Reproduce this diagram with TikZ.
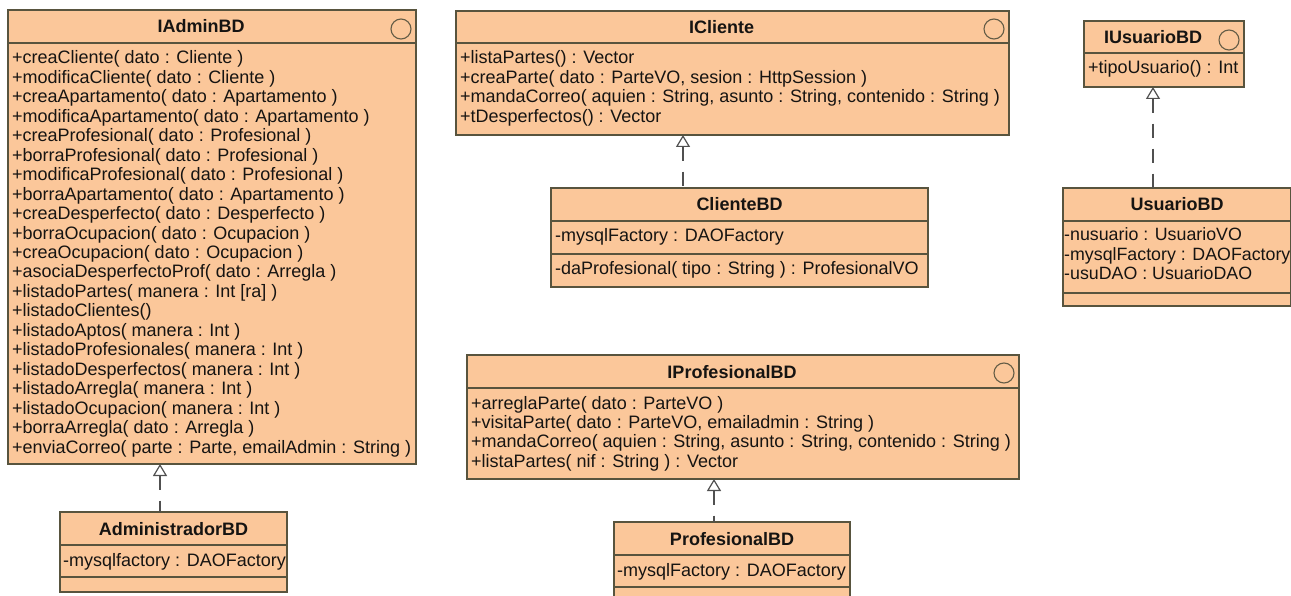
\documentclass[tikz,border=0pt]{standalone}
\usepackage{fontspec}
\setmainfont{Liberation Sans}
\usetikzlibrary{arrows.meta}
\definecolor{boxfill}{RGB}{251,199,154}
\definecolor{boxline}{RGB}{88,84,62}
\definecolor{ink}{RGB}{22,20,18}
\definecolor{ringline}{RGB}{100,92,70}
\definecolor{arrowline}{RGB}{80,80,80}

% frame of a class box: name, left, top, right, bottom (pixel grid, y downwards)
\newcommand\umlframe[5]{%
  \node[frame, minimum width={(#4)-(#2)}, minimum height={(#5)-(#3)}] (#1) at (#2,#3) {};}
% compartment rule across a box: left, right, y
\newcommand\umlrule[3]{\draw[rule] (#1,#3) -- (#2,#3);}

\begin{document}
\begin{tikzpicture}[x=1pt,y=-1pt,
  frame/.style={draw=boxline, line width=1.2pt, fill=boxfill, inner sep=0pt,
                outer sep=0pt, anchor=north west},
  rule/.style={draw=boxline, line width=1.2pt},
  title/.style={font=\fontsize{18}{19.4}\selectfont\bfseries, text=ink,
                inner sep=0pt, anchor=base},
  member/.style={font=\fontsize{18}{19.4}\selectfont, text=ink,
                 inner sep=0pt, anchor=base west},
  narrowmember/.style={member, font=\fontsize{17.8}{19.4}\selectfont},
  ring/.style={circle, draw=ringline, line width=1.1pt, minimum size=20pt,
               inner sep=0pt},
  realize/.style={draw=arrowline, line width=1.2pt, dash pattern=on 14pt off 11pt,
                  {Triangle[open, width=14pt, length=12pt, fill=white]}-}
]
\fill[white] (0,0) rectangle (1291,596);
\useasboundingbox (0,0) rectangle (1291,596);

% ---------- IAdminBD ----------
\umlframe{iadm}{8}{10}{416}{464}
\umlrule{8}{416}{43}
\node[title] (iadm-name) at (201,33) {IAdminBD};
\node[ring] (iadm-ring) at (401,29) {};
\foreach \t [count=\i from 0] in {
  {+creaCliente( dato : Cliente )},
  {+modificaCliente( dato : Cliente )},
  {+creaApartamento( dato : Apartamento )},
  {+modificaApartamento( dato : Apartamento )},
  {+creaProfesional( dato : Profesional )},
  {+borraProfesional( dato : Profesional )},
  {+modificaProfesional( dato : Profesional )},
  {+borraApartamento( dato : Apartamento )},
  {+creaDesperfecto( dato : Desperfecto )},
  {+borraOcupacion( dato : Ocupacion )},
  {+creaOcupacion( dato : Ocupacion )},
  {+asociaDesperfectoProf( dato : Arregla )},
  {+listadoPartes( manera : Int [ra] )},
  {+listadoClientes()},
  {+listadoAptos( manera : Int )},
  {+listadoProfesionales( manera : Int )},
  {+listadoDesperfectos( manera : Int )},
  {+listadoArregla( manera : Int )},
  {+listadoOcupacion( manera : Int )},
  {+borraArregla( dato : Arregla )},
  {+enviaCorreo( parte : Parte, emailAdmin : String )}}
  \node[member] (iadm-op\i) at (12,{64+\i*19.45}) {\t};

% ---------- AdministradorBD ----------
\umlframe{admbd}{60}{512}{287}{592}
\umlrule{60}{287}{545}
\umlrule{60}{287}{577}
\node[title] (admbd-name) at (173.5,535) {AdministradorBD};
\node[member] (admbd-at0) at (63,566) {-mysqlfactory : DAOFactory};

% ---------- ICliente ----------
\umlframe{icli}{456}{11}{1009}{135}
\umlrule{456}{1009}{43}
\node[title] (icli-name) at (721.5,34) {ICliente};
\node[ring] (icli-ring) at (994,29) {};
\foreach \t [count=\i from 0] in {
  {+listaPartes() : Vector},
  {+creaParte( dato : ParteVO, sesion : HttpSession )},
  {+mandaCorreo( aquien : String, asunto : String, contenido : String )},
  {+tDesperfectos() : Vector}}
  \node[member] (icli-op\i) at (460,{64+\i*19.4}) {\t};

% ---------- ClienteBD ----------
\umlframe{clibd}{551}{188}{928}{287}
\umlrule{551}{928}{221}
\umlrule{551}{928}{254}
\node[title] (clibd-name) at (739.5,211) {ClienteBD};
\node[member] (clibd-at0) at (555,242) {-mysqlFactory : DAOFactory};
\node[member] (clibd-op0) at (555,275) {-daProfesional( tipo : String ) : ProfesionalVO};

% ---------- IUsuarioBD ----------
\umlframe{iusu}{1084}{21}{1244}{87}
\umlrule{1084}{1244}{53}
\node[title] (iusu-name) at (1153,44) {IUsuarioBD};
\node[ring] (iusu-ring) at (1229,40) {};
\node[member] (iusu-op0) at (1088,74) {+tipoUsuario() : Int};

% ---------- UsuarioBD ----------
\umlframe{usubd}{1063}{188}{1291}{306}
\umlrule{1063}{1291}{221}
\umlrule{1063}{1291}{293}
\node[title] (usubd-name) at (1177,211) {UsuarioBD};
\foreach \t [count=\i from 0] in {
  {-nusuario : UsuarioVO},
  {-mysqlFactory : DAOFactory},
  {-usuDAO : UsuarioDAO}}
  \node[narrowmember] (usubd-at\i) at (1064,{241+\i*19.4}) {\t};

% ---------- IProfesionalBD ----------
\umlframe{ipro}{467}{355}{1019}{479}
\umlrule{467}{1019}{388}
\node[title] (ipro-name) at (732,378) {IProfesionalBD};
\node[ring] (ipro-ring) at (1004,373) {};
\foreach \t [count=\i from 0] in {
  {+arreglaParte( dato : ParteVO )},
  {+visitaParte( dato : ParteVO, emailadmin : String )},
  {+mandaCorreo( aquien : String, asunto : String, contenido : String )},
  {+listaPartes( nif : String ) : Vector}}
  \node[member] (ipro-op\i) at (471,{409+\i*19.4}) {\t};

% ---------- ProfesionalBD ----------
\umlframe{probd}{614}{522}{850}{602}
\umlrule{614}{850}{555}
\umlrule{614}{850}{587}
\node[title] (probd-name) at (732,545) {ProfesionalBD};
\node[member] (probd-at0) at (617,576) {-mysqlFactory : DAOFactory};

% ---------- realizations ----------
\coordinate (adm-foot) at ([xshift=100pt]admbd.north west);
\coordinate (cli-foot) at ([xshift=132pt]clibd.north west);
\coordinate (pro-foot) at ([xshift=100pt]probd.north west);
\coordinate (usu-foot) at ([xshift=90pt]usubd.north west);
\draw[realize] (iadm.south -| adm-foot) -- (adm-foot);
\draw[realize] (icli.south -| cli-foot) -- (cli-foot);
\draw[realize] (ipro.south -| pro-foot) -- (pro-foot);
\draw[realize] (iusu.south -| usu-foot) -- (usu-foot);
\end{tikzpicture}
\end{document}
